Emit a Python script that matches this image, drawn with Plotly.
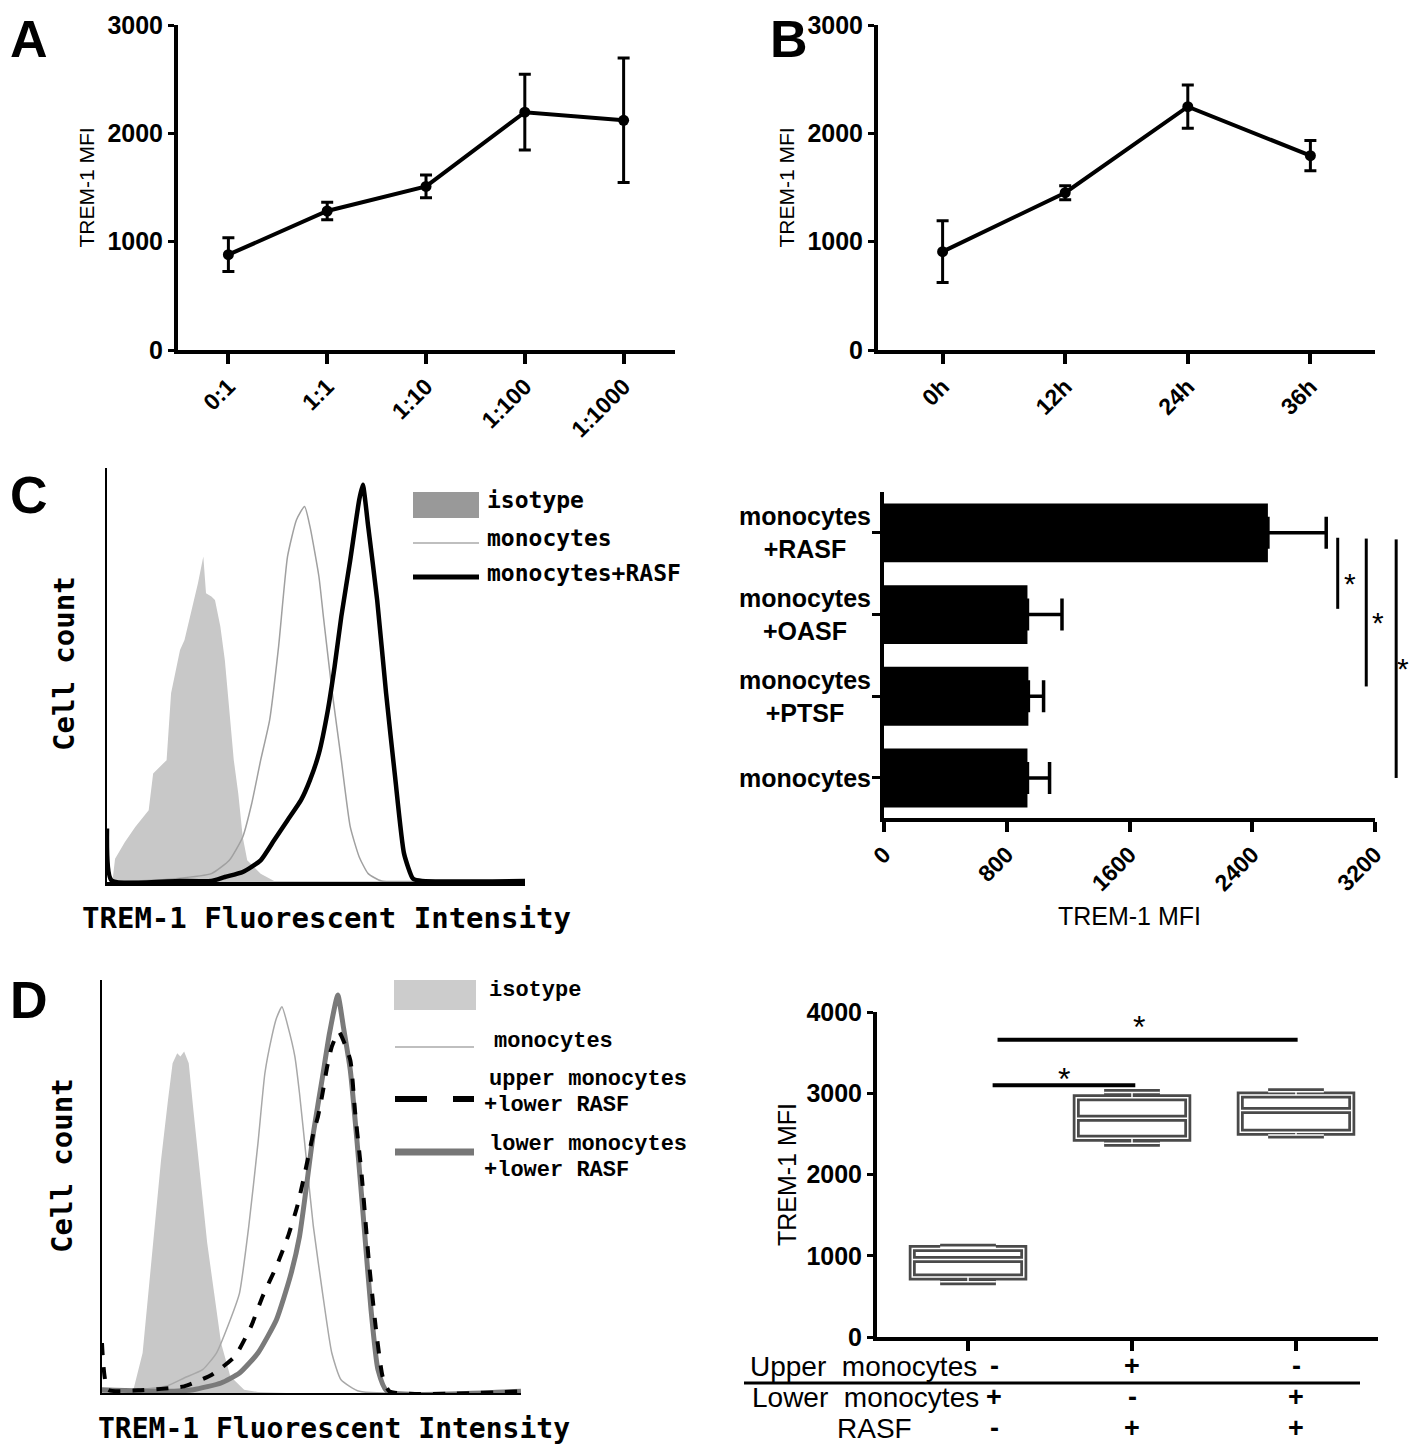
import plotly.graph_objects as go

W, H = 1418, 1452
PAD = 8  # the page body keeps an 8px margin round the plot div
FW, FH = W - 2 * PAD, H - 2 * PAD

# ---------------- data ----------------
# A: TREM-1 MFI vs monocyte:RASF ratio
a_ratio = ['0:1', '1:1', '1:10', '1:100', '1:1000']
a_mfi = [880, 1283, 1510, 2195, 2120]
a_sd = [155, 80, 105, 350, 575]

# B: TREM-1 MFI vs time
b_time = ['0h', '12h', '24h', '36h']
b_mfi = [908, 1452, 2246, 1794]
b_sd = [286, 65, 200, 140]

# C: flow histogram (channel, count)
c_iso_x = [0, 12, 18, 40, 63, 93, 103, 133, 143, 163, 173, 193, 203, 215, 221, 233, 241,
           253, 263, 273, 283, 293, 303, 313, 343, 373, 500, 683]
c_iso_y = [0, 0, 70, 120, 165, 215, 325, 365, 565, 695, 725, 835, 895, 975, 865, 855, 845,
           765, 665, 515, 365, 265, 135, 65, 25, 3, 3, 2]
c_mono_x = [13, 153, 233, 273, 303, 323, 343, 363, 383, 403, 423, 441, 453, 473, 483, 503,
            523, 543, 563, 583, 613, 700, 933]
c_mono_y = [0, 10, 25, 65, 135, 235, 365, 485, 705, 975, 1085, 1125, 1065, 915, 795, 565,
            365, 165, 75, 25, 3, 2, 2]
c_rasf_x = [0, 10, 163, 233, 263, 303, 343, 373, 403, 433, 453, 473, 493, 508, 523, 543,
            563, 571, 583, 603, 623, 643, 663, 683, 703, 933]
c_rasf_y = [160, 5, 3, 3, 15, 30, 65, 125, 185, 245, 305, 385, 515, 645, 795, 965, 1145,
            1190, 1065, 845, 565, 315, 85, 10, 3, 3]

# C: bar chart
c_groups = ['monocytes', 'monocytes<br>+PTSF', 'monocytes<br>+OASF', 'monocytes<br>+RASF']
c_mfi = [935, 941, 935, 2502]
c_sd = [144, 99, 225, 380]
c_sig_x = [2957, 3143, 3338]
c_sig_top = [2.94, 2.93, 2.92]
c_sig_bot = [2.07, 1.12, 0.0]
c_star_x = [3035, 3218, 3385]

# D: flow histogram
d_iso_x = [60, 68, 88, 108, 128, 143, 153, 163, 170, 178, 188, 198, 213, 228, 243, 258,
           278, 308, 338, 400]
d_iso_y = [0, 10, 120, 400, 700, 880, 990, 1020, 1010, 1025, 990, 850, 650, 450, 300, 150,
           50, 10, 3, 0]
d_mono_x = [0, 138, 178, 218, 248, 278, 298, 318, 338, 353, 368, 378, 390, 403, 418, 428,
            443, 458, 478, 498, 518, 558, 908]
d_mono_y = [0, 20, 45, 70, 120, 220, 300, 500, 750, 960, 1070, 1125, 1160, 1100, 1010, 900,
            700, 500, 300, 120, 40, 5, 3]
d_low_x = [0, 138, 198, 258, 298, 338, 378, 408, 428, 443, 458, 478, 493, 511, 523, 538,
           553, 568, 583, 598, 618, 908]
d_low_y = [10, 5, 10, 30, 60, 120, 220, 350, 470, 620, 780, 950, 1080, 1195, 1100, 970,
           750, 500, 250, 70, 5, 5]
d_up_x = [0, 13, 78, 178, 238, 288, 323, 348, 378, 403, 423, 438, 458, 468, 478, 488, 498,
          513, 538, 548, 563, 578, 593, 608, 623, 908]
d_up_y = [150, 10, 8, 20, 55, 110, 200, 290, 380, 470, 560, 650, 780, 830, 900, 980, 1040,
          1085, 1000, 850, 650, 400, 200, 50, 5, 5]

# D: box plot
d_min = [680, 2384, 2486]
d_q1 = [740, 2446, 2519]
d_med = [955, 2691, 2789]
d_q3 = [1088, 2945, 2977]
d_max = [1104, 3010, 3018]
d_sig_x0 = [0.15, 0.18]
d_sig_x1 = [1.02, 2.01]
d_sig_y = [3100, 3660]
d_star_x = [0.585, 1.04]
d_star_y = [3170, 3810]
d_upper = ['-', '+', '-']
d_lower = ['+', '-', '+']
d_rasf = ['-', '+', '+']


def X(p):
    return (p - PAD) / FW


def Y(p):
    return 1 - (p - PAD) / FH


BLACK = 'black'
SANS = 'Liberation Sans'
MONO = 'DejaVu Sans Mono'
SERIFMONO = 'Liberation Mono'

fig = go.Figure()

# A
fig.add_trace(go.Scatter(
    x=list(range(len(a_ratio))), y=a_mfi, mode='lines+markers',
    line=dict(color=BLACK, width=4), marker=dict(color=BLACK, size=11),
    error_y=dict(type='data', array=a_sd, color=BLACK, thickness=3, width=6),
    xaxis='x', yaxis='y'))

# B
fig.add_trace(go.Scatter(
    x=list(range(len(b_time))), y=b_mfi, mode='lines+markers',
    line=dict(color=BLACK, width=4), marker=dict(color=BLACK, size=11),
    error_y=dict(type='data', array=b_sd, color=BLACK, thickness=3, width=6),
    xaxis='x2', yaxis='y2'))

# C histogram
fig.add_trace(go.Scatter(x=c_iso_x, y=c_iso_y, mode='lines', fill='tozeroy',
                         fillcolor='#c8c8c8', line=dict(width=0, color='#c8c8c8'),
                         xaxis='x3', yaxis='y3'))
fig.add_trace(go.Scatter(x=c_mono_x, y=c_mono_y, mode='lines',
                         line=dict(color='#a0a0a0', width=1.5, shape='spline', smoothing=0.5),
                         xaxis='x3', yaxis='y3'))
fig.add_trace(go.Scatter(x=c_rasf_x, y=c_rasf_y, mode='lines',
                         line=dict(color=BLACK, width=4.5, shape='spline', smoothing=0.5),
                         xaxis='x3', yaxis='y3'))

# C bars
fig.add_trace(go.Bar(
    x=c_mfi, y=list(range(len(c_groups))), orientation='h', width=0.72,
    marker=dict(color=BLACK, line=dict(width=0, color=BLACK)),
    error_x=dict(type='data', array=c_sd, arrayminus=[0] * len(c_sd), symmetric=False,
                 color=BLACK, thickness=3.5, width=16),
    xaxis='x4', yaxis='y4'))

# D histogram
fig.add_trace(go.Scatter(x=d_iso_x, y=d_iso_y, mode='lines', fill='tozeroy',
                         fillcolor='#c8c8c8', line=dict(width=0, color='#c8c8c8'),
                         xaxis='x5', yaxis='y5'))
fig.add_trace(go.Scatter(x=d_mono_x, y=d_mono_y, mode='lines',
                         line=dict(color='#a8a8a8', width=1.5, shape='spline', smoothing=0.5),
                         xaxis='x5', yaxis='y5'))
fig.add_trace(go.Scatter(x=d_low_x, y=d_low_y, mode='lines',
                         line=dict(color='#7a7a7a', width=5, shape='spline', smoothing=0.5),
                         xaxis='x5', yaxis='y5'))
fig.add_trace(go.Scatter(x=d_up_x, y=d_up_y, mode='lines',
                         line=dict(color=BLACK, width=4, dash='dash', shape='spline', smoothing=0.5),
                         xaxis='x5', yaxis='y5'))

# D boxes: grey outline with a thin white core
pos = list(range(len(d_med)))
fig.add_trace(go.Box(x=pos, q1=d_q1, median=d_med, q3=d_q3, lowerfence=d_min,
                     upperfence=d_max, width=0.68, whiskerwidth=0.5, boxpoints=False,
                     fillcolor='white', line=dict(color='#4a4a4a', width=7),
                     xaxis='x6', yaxis='y6'))
fig.add_trace(go.Box(x=pos, q1=d_q1, median=d_med, q3=d_q3, lowerfence=d_min,
                     upperfence=d_max, width=0.68, whiskerwidth=0.5, boxpoints=False,
                     fillcolor='rgba(0,0,0,0)', line=dict(color='white', width=1.5),
                     xaxis='x6', yaxis='y6'))

tickfont_b = dict(family=SANS, size=25, color=BLACK, weight='bold')
axis_common = dict(showgrid=False, zeroline=False, showline=True, linecolor=BLACK,
                   tickcolor=BLACK, automargin=False, fixedrange=True)

layout = dict(
    template='none',
    width=FW, height=FH, margin=dict(l=0, r=0, t=0, b=0),
    paper_bgcolor='white', plot_bgcolor='white', showlegend=False,
    font=dict(family=SANS, color=BLACK),
    boxmode='overlay',
    # A
    xaxis=dict(domain=[X(178), X(675)], range=[-0.51, 4.52], anchor='y',
               tickvals=list(range(len(a_ratio))), ticktext=a_ratio, tickangle=-45,
               ticks='outside', ticklen=10, tickwidth=4, linewidth=4,
               tickfont=dict(family=SANS, size=23, color=BLACK, weight='bold'), **axis_common),
    yaxis=dict(domain=[Y(350), Y(25)], range=[0, 3000], anchor='x',
               tickvals=[0, 1000, 2000, 3000], ticks='outside', ticklen=6, tickwidth=3,
               linewidth=4, tickfont=tickfont_b,
               title=dict(text='TREM-1 MFI', font=dict(family=SANS, size=21), standoff=8),
               **axis_common),
    # B
    xaxis2=dict(domain=[X(878), X(1375)], range=[-0.527, 3.527], anchor='y2',
                tickvals=list(range(len(b_time))), ticktext=b_time, tickangle=-45,
                ticks='outside', ticklen=10, tickwidth=4, linewidth=4,
                tickfont=dict(family=SANS, size=23, color=BLACK, weight='bold'), **axis_common),
    yaxis2=dict(domain=[Y(350), Y(25)], range=[0, 3000], anchor='x2',
                tickvals=[0, 1000, 2000, 3000], ticks='outside', ticklen=6, tickwidth=3,
                linewidth=4, tickfont=tickfont_b,
                title=dict(text='TREM-1 MFI', font=dict(family=SANS, size=21), standoff=8),
                **axis_common),
    # C histogram
    xaxis3=dict(domain=[X(107), X(525)], range=[0, 933], anchor='y3', linewidth=4,
                showticklabels=False, ticks='', **axis_common),
    yaxis3=dict(domain=[Y(882), Y(468)], range=[0, 1240], anchor='x3', linewidth=1.5,
                showticklabels=False, ticks='', **axis_common),
    # C bars
    xaxis4=dict(domain=[X(884), X(1375)], range=[0, 3200], anchor='y4',
                tickvals=[0, 800, 1600, 2400, 3200], tickangle=-45,
                ticks='outside', ticklen=10, tickwidth=4, linewidth=4,
                tickfont=dict(family=SANS, size=23, color=BLACK, weight='bold'),
                title=dict(text='TREM-1 MFI', font=dict(family=SANS, size=25), standoff=14),
                **axis_common),
    yaxis4=dict(domain=[Y(818), Y(492)], range=[-0.49, 3.5], anchor='x4',
                tickvals=list(range(len(c_groups))), showticklabels=False,
                ticks='outside', ticklen=8, tickwidth=3, linewidth=4, **axis_common),
    # D histogram
    xaxis5=dict(domain=[X(102), X(521)], range=[0, 908], anchor='y5', linewidth=2,
                showticklabels=False, ticks='', **axis_common),
    yaxis5=dict(domain=[Y(1393), Y(980)], range=[0, 1240], anchor='x5', linewidth=1.5,
                showticklabels=False, ticks='', **axis_common),
    # D boxes
    xaxis6=dict(domain=[X(877), X(1378)], range=[-0.555, 2.5], anchor='y6',
                tickvals=pos, showticklabels=False, ticks='outside', ticklen=10,
                tickwidth=4, linewidth=4, **axis_common),
    yaxis6=dict(domain=[Y(1337), Y(1012)], range=[0, 4000], anchor='x6',
                tickvals=[0, 1000, 2000, 3000, 4000], ticks='outside', ticklen=6,
                tickwidth=3, linewidth=4, tickfont=tickfont_b,
                title=dict(text='TREM-1 MFI', font=dict(family=SANS, size=25), standoff=4),
                **axis_common),
)
fig.update_layout(**layout)

ann = []
shapes = []


def note(text, x, y, xref='paper', yref='paper', xanchor='center', yanchor='middle', **kw):
    d = dict(text=text, x=x, y=y, xref=xref, yref=yref, showarrow=False,
             xanchor=xanchor, yanchor=yanchor)
    d.update(kw)
    ann.append(d)


# panel letters
letter_font = dict(family=SANS, size=52, weight='bold', color=BLACK)
for letter, lx, ly in [('A', 8, 8), ('B', 768, 8), ('C', 8, 464), ('D', 8, 969)]:
    note(letter, X(lx), Y(ly), xanchor='left', yanchor='top', font=letter_font)

# histogram axis titles
hist_font = dict(family=MONO, size=29, weight='bold', color=BLACK)
note('TREM-1 Fluorescent Intensity', X(326), Y(918), font=hist_font)
note('TREM-1 Fluorescent Intensity', X(334), Y(1428), font=dict(hist_font, size=28))
for tx, ty in [(64, 664), (62, 1165)]:
    note('Cell count', X(tx), Y(ty), textangle=-90, font=hist_font)

# C legend
legc_font = dict(family=MONO, size=23, weight='bold', color=BLACK)
shapes.append(dict(type='rect', xref='paper', yref='paper', x0=X(413), x1=X(479),
                   y0=Y(518), y1=Y(492), fillcolor='#999999', line=dict(width=0)))
shapes.append(dict(type='line', xref='paper', yref='paper', x0=X(413), x1=X(479),
                   y0=Y(543), y1=Y(543), line=dict(color='#aaaaaa', width=1.5)))
shapes.append(dict(type='line', xref='paper', yref='paper', x0=X(413), x1=X(479),
                   y0=Y(577), y1=Y(577), line=dict(color=BLACK, width=5)))
for txt, ty in [('isotype', 500), ('monocytes', 538), ('monocytes+RASF', 573)]:
    note(txt, X(485), Y(ty), xanchor='left', font=legc_font)

# D legend
legd_font = dict(family=SERIFMONO, size=22, weight='bold', color=BLACK)
shapes.append(dict(type='rect', xref='paper', yref='paper', x0=X(394), x1=X(476),
                   y0=Y(1010), y1=Y(980), fillcolor='#cccccc', line=dict(width=0)))
shapes.append(dict(type='line', xref='paper', yref='paper', x0=X(395), x1=X(474),
                   y0=Y(1047), y1=Y(1047), line=dict(color='#aaaaaa', width=1.5)))
shapes.append(dict(type='line', xref='paper', yref='paper', x0=X(395), x1=X(474),
                   y0=Y(1099), y1=Y(1099), line=dict(color=BLACK, width=6, dash='32px,26px')))
shapes.append(dict(type='line', xref='paper', yref='paper', x0=X(395), x1=X(474),
                   y0=Y(1152), y1=Y(1152), line=dict(color='#777777', width=7)))
for txt, tx, ty in [('isotype', 487, 990), ('monocytes', 492, 1041),
                    ('upper monocytes', 487, 1079), ('+lower RASF', 482, 1105),
                    ('lower monocytes', 487, 1144), ('+lower RASF', 482, 1170)]:
    note(txt, X(tx), Y(ty), xanchor='left', font=legd_font)

# C bar category labels
for i, lab in enumerate(c_groups):
    note(lab, X(873), i, yref='y4', xanchor='right', align='center',
         font=dict(family=SANS, size=25, weight='bold', color=BLACK))

# C significance brackets (they run past the axis end, so use domain fractions)
cx0, cx1 = 0, 3200
cy0, cy1 = -0.49, 3.5


def cfx(v):
    return (v - cx0) / (cx1 - cx0)


def cfy(v):
    return (v - cy0) / (cy1 - cy0)


for sx, st, sb, tx in zip(c_sig_x, c_sig_top, c_sig_bot, c_star_x):
    shapes.append(dict(type='line', xref='x4 domain', yref='y4 domain', x0=cfx(sx), x1=cfx(sx),
                       y0=cfy(sb), y1=cfy(st), line=dict(color=BLACK, width=3)))
    note('*', cfx(tx), cfy((st + sb) / 2 - 0.12), xref='x4 domain', yref='y4 domain',
         font=dict(family=SANS, size=30, color=BLACK))

# D significance bars
for x0, x1, yv, sx, sy in zip(d_sig_x0, d_sig_x1, d_sig_y, d_star_x, d_star_y):
    shapes.append(dict(type='line', xref='x6', yref='y6', x0=x0, x1=x1, y0=yv, y1=yv,
                       line=dict(color=BLACK, width=4)))
    note('*', sx, sy, xref='x6', yref='y6', font=dict(family=SANS, size=32, color=BLACK))

# D design table
tab_font = dict(family=SANS, size=28, color=BLACK)
for txt, tx, ty in [('Upper  monocytes', 979, 1366), ('Lower  monocytes', 981, 1397),
                    ('RASF', 914, 1428)]:
    note(txt, X(tx), Y(ty), xanchor='right', font=tab_font)
for row, ty in [(d_upper, 1366), (d_lower, 1397), (d_rasf, 1428)]:
    for i, s in enumerate(row):
        note(s, i + 0.16 if i == 0 else i, Y(ty), xref='x6',
             font=dict(family=SANS, size=27, weight='bold', color=BLACK))
shapes.append(dict(type='line', xref='paper', yref='paper', x0=X(744), x1=X(1360),
                   y0=Y(1383), y1=Y(1383), line=dict(color=BLACK, width=3)))

fig.update_layout(annotations=ann, shapes=shapes)

fig.write_html("out.html")
